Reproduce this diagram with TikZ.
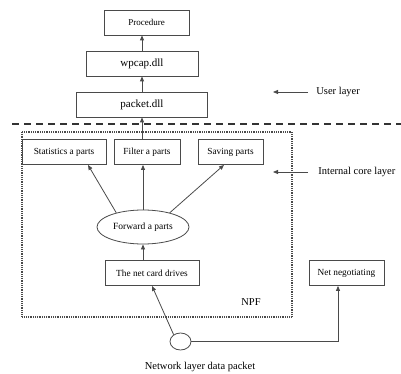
\documentclass[tikz,border=0pt]{standalone}
\usepackage{fontspec}
\setmainfont{Liberation Serif}
\usetikzlibrary{arrows.meta, positioning, shapes.geometric, calc}
\definecolor{cline}{HTML}{4A4A4A}
\tikzset{
  every picture/.style={line width=0.8pt},
  box/.style={draw=cline, fill=white, align=center, inner sep=2pt, minimum height=25pt, font=\fontsize{9.3}{11}\selectfont},
  arrow/.style={-{Triangle[length=5pt, width=4pt]}, draw=cline, line width=0.8pt},
  layer/.style={font=\fontsize{10.5}{12}\selectfont, inner sep=1pt},
}

\begin{document}
\begin{tikzpicture}[x=1pt, y=-1pt,
  dll/.style={box, font=\fontsize{11}{13}\selectfont},
  core/.style={draw=cline, line width=1.3pt, dash pattern=on 0.9pt off 0.9pt},
  split/.style={draw=black!80, line width=1.8pt, dash pattern=on 7pt off 5pt}]
  \useasboundingbox (0,0) rectangle (401,374);
  % user layer
  \node[box, minimum width=85pt, font=\fontsize{9}{11}\selectfont] (proc) at (146.5,22.5) {Procedure};
  \node[dll, minimum width=112pt] (wpcap) at (142,63.5) {wpcap.dll};
  \node[dll, minimum width=131pt] (packet) at (142,104.5) {packet.dll};
  \draw[arrow] (wpcap.north) -- (wpcap.north |- proc.south);
  \draw[arrow] (packet.north) -- (wpcap.south);
  \draw[split] (12,124) -- (401,124);
  % internal core layer (NPF)
  \draw[core] (22,132) rectangle (292,317);
  \foreach \n/\x/\w/\t in {stat/64/84/{Statistics a parts}, filter/147/66/{Filter a parts}, save/230.5/65/{Saving parts}}
    \node[box, minimum width=\w pt] (\n) at (\x,152) {\t};
  \node[ellipse, draw=cline, fill=white, minimum width=92pt, minimum height=34pt, inner sep=0pt,
        font=\fontsize{9.5}{11}\selectfont] (fwd) at (143,227) {Forward a parts};
  \node[box, minimum width=94pt] (drv) at (152,273) {The net card drives};
  \node[box, minimum width=75pt] (neg) at (346.5,273) {Net negotiating};
  \node[layer] (npf) at (251,302) {NPF};
  \draw[arrow] (filter.north -| packet.south) -- (packet.south);
  \draw[arrow] (fwd.north) -- (fwd.north |- filter.south);
  \draw[arrow] (fwd.152) -- ([xshift=24pt]stat.south);
  \draw[arrow] (fwd.28) -- ([xshift=-6.5pt]save.south);
  \draw[arrow] (drv.north -| fwd.south) -- (fwd.south);
  % data packet
  \node[ellipse, draw=cline, fill=white, minimum width=21pt, minimum height=17pt, inner sep=0pt] (pkt) at (180.5,341.5) {};
  \node[layer] (data) at (200,367) {Network layer data packet};
  \draw[arrow] (pkt.135) -- (drv.south);
  \draw[arrow] (pkt.east) -| ([xshift=-8.5pt]neg.south);
  % layer marks
  \node[layer, anchor=west] (user) at (315,92) {User layer};
  \node[layer, anchor=west] (inner) at (317,172) {Internal core layer};
  \draw[arrow] ([xshift=-7pt]user.west) -- ++(-35,0);
  \draw[arrow] ([xshift=-9pt]inner.west) -- ++(-35,0);
\end{tikzpicture}
\end{document}
